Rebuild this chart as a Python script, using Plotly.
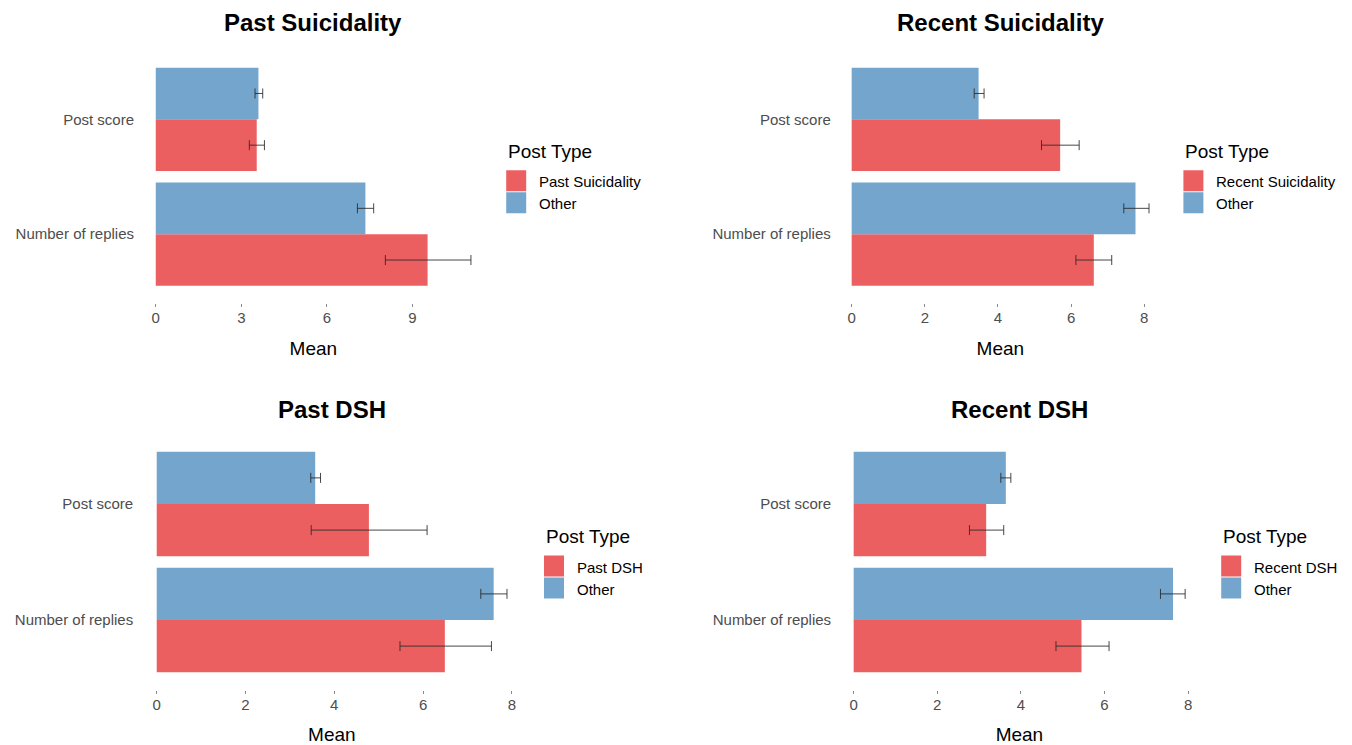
import plotly.graph_objects as go

# Outcome measures (bottom to top on each panel)
categories = ["Number of replies", "Post score"]
panel_titles = ["Past Suicidality", "Recent Suicidality", "Past DSH", "Recent DSH"]
legend_labels = ["Past Suicidality", "Recent Suicidality", "Past DSH", "Recent DSH"]
other_label = "Other"
x_dticks = [3, 2, 2, 2]

# Means and 95% interval bounds, ordered as `categories`
past_sui_mean = [9.53, 3.54]
past_sui_lo = [8.05, 3.28]
past_sui_hi = [11.05, 3.81]
past_sui_other_mean = [7.35, 3.60]
past_sui_other_lo = [7.07, 3.48]
past_sui_other_hi = [7.64, 3.75]

recent_sui_mean = [6.62, 5.70]
recent_sui_lo = [6.13, 5.19]
recent_sui_hi = [7.11, 6.22]
recent_sui_other_mean = [7.76, 3.47]
recent_sui_other_lo = [7.44, 3.35]
recent_sui_other_hi = [8.13, 3.62]

past_dsh_mean = [6.49, 4.78]
past_dsh_lo = [5.48, 3.48]
past_dsh_hi = [7.54, 6.09]
past_dsh_other_mean = [7.59, 3.57]
past_dsh_other_lo = [7.30, 3.47]
past_dsh_other_hi = [7.89, 3.69]

recent_dsh_mean = [5.45, 3.17]
recent_dsh_lo = [4.84, 2.77]
recent_dsh_hi = [6.11, 3.59]
recent_dsh_other_mean = [7.64, 3.64]
recent_dsh_other_lo = [7.34, 3.52]
recent_dsh_other_hi = [7.93, 3.76]

panels = [
    (past_sui_mean, past_sui_lo, past_sui_hi,
     past_sui_other_mean, past_sui_other_lo, past_sui_other_hi),
    (recent_sui_mean, recent_sui_lo, recent_sui_hi,
     recent_sui_other_mean, recent_sui_other_lo, recent_sui_other_hi),
    (past_dsh_mean, past_dsh_lo, past_dsh_hi,
     past_dsh_other_mean, past_dsh_other_lo, past_dsh_other_hi),
    (recent_dsh_mean, recent_dsh_lo, recent_dsh_hi,
     recent_dsh_other_mean, recent_dsh_other_lo, recent_dsh_other_hi),
]

RED = "rgb(236,95,96)"
BLUE = "rgb(115,165,205)"
FONT = "Liberation Sans, Arial, sans-serif"
TICK_GREY = "#4d4d4d"

W, H = 1352, 745

# panel boxes in pixels: (left, right, top, bottom)
boxes = [
    (140.0, 486.7, 50.4, 303.1),
    (836.8, 1163.9, 50.4, 303.1),
    (139.2, 524.5, 434.4, 689.6),
    (837.1, 1201.7, 434.4, 689.6),
]

fig = go.Figure()
layout = dict(
    width=W, height=H,
    margin=dict(l=0, r=0, t=0, b=0),
    paper_bgcolor="white", plot_bgcolor="white",
    barmode="group", bargap=0.1, bargroupgap=0,
    font=dict(family=FONT, color="black"),
    showlegend=False,
    annotations=[],
    shapes=[],
)


def err(mean, lo, hi):
    return dict(
        type="data", symmetric=False,
        array=[h - m for m, h in zip(mean, hi)],
        arrayminus=[m - l for m, l in zip(mean, lo)],
        color="rgba(40,40,40,0.85)", thickness=1, width=5,
    )


def px_x(v):
    return v / W


def px_y(v):
    return 1 - v / H


for i, (title, (fm, fl, fh, om, ol, oh)) in enumerate(zip(panel_titles, panels)):
    n = i + 1
    xa = "x" if n == 1 else f"x{n}"
    ya = "y" if n == 1 else f"y{n}"
    fig.add_trace(go.Bar(
        y=categories, x=fm, orientation="h", name=legend_labels[i],
        marker=dict(color=RED, line=dict(width=0)),
        error_x=err(fm, fl, fh), xaxis=xa, yaxis=ya,
    ))
    fig.add_trace(go.Bar(
        y=categories, x=om, orientation="h", name=other_label,
        marker=dict(color=BLUE, line=dict(width=0)),
        error_x=err(om, ol, oh), xaxis=xa, yaxis=ya,
    ))

    left, right, top, bottom = boxes[i]
    hi_max = max(fh + oh)
    pad = 0.05 * hi_max
    xkey = "xaxis" if n == 1 else f"xaxis{n}"
    ykey = "yaxis" if n == 1 else f"yaxis{n}"
    layout[xkey] = dict(
        domain=[px_x(left), px_x(right)], anchor=ya,
        range=[-pad, hi_max + pad], tick0=0, dtick=x_dticks[i],
        showgrid=False, zeroline=False, showline=False,
        ticks="outside", ticklen=3, tickwidth=1, tickcolor="#8a8a8a",
        tickfont=dict(size=15, color=TICK_GREY, family=FONT),
        ticklabelstandoff=-2,
        title=dict(text="Mean", font=dict(size=19, color="black", family=FONT),
                   standoff=16),
    )
    layout[ykey] = dict(
        domain=[px_y(bottom), px_y(top)], anchor=xa,
        type="category", categoryorder="array", categoryarray=categories,
        range=[-0.6, 1.6],
        showgrid=False, zeroline=False, showline=False, ticks="",
        tickfont=dict(size=15, color=TICK_GREY, family=FONT),
        ticklabelstandoff=5,
    )

    # panel title
    layout["annotations"].append(dict(
        text=f"<b>{title}</b>", x=px_x((left + right) / 2),
        y=px_y(22 if i < 2 else 409),
        xref="paper", yref="paper", xanchor="center", yanchor="middle",
        showarrow=False, font=dict(size=24, color="black", family=FONT),
    ))

    # legend box to the right of the panel
    lx = right + 19.5
    mid = (top + bottom) / 2
    layout["annotations"].append(dict(
        text="Post Type", x=px_x(lx), y=px_y(mid - 25.5),
        xref="paper", yref="paper", xanchor="left", yanchor="middle",
        showarrow=False, font=dict(size=19, color="black", family=FONT),
    ))
    for k, (lab, col) in enumerate([(legend_labels[i], RED), (other_label, BLUE)]):
        ktop = mid - 6.5 + k * 22
        layout["shapes"].append(dict(
            type="rect", xref="paper", yref="paper",
            x0=px_x(lx), x1=px_x(lx + 20), y0=px_y(ktop + 21), y1=px_y(ktop),
            fillcolor=col, line=dict(width=0), layer="above",
        ))
        layout["annotations"].append(dict(
            text=lab, x=px_x(lx + 31), y=px_y(ktop + 11.5),
            xref="paper", yref="paper", xanchor="left", yanchor="middle",
            showarrow=False, font=dict(size=15, color="black", family=FONT),
        ))

fig.update_layout(**layout)
fig.write_html("out.html")
